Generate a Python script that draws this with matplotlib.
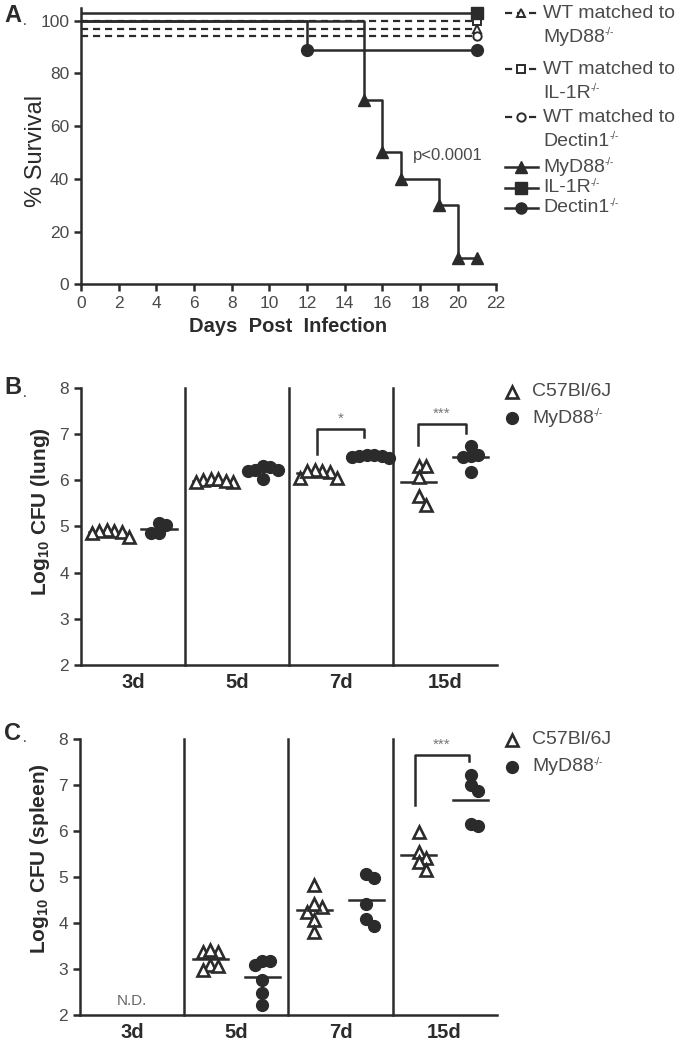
import numpy as np
import matplotlib.pyplot as plt

plt.rcParams['font.family'] = ['Liberation Sans', 'DejaVu Sans']
plt.rcParams['mathtext.fontset'] = 'custom'
plt.rcParams['mathtext.rm'] = 'Liberation Sans'
plt.rcParams['mathtext.it'] = 'Liberation Sans:italic'
plt.rcParams['mathtext.bf'] = 'Liberation Sans:bold'

# ---- panel A: survival curves ----
day_ticks = list(range(0, 23, 2))
surv_ticks = [0, 20, 40, 60, 80, 100]
myd88_days = [0, 15, 16, 17, 19, 20, 21]
myd88_surv = [100, 70, 50, 40, 30, 10, 10]
dectin_days = [0, 12, 21]
dectin_surv = [100, 88.9, 88.9]
il1r_days = [0, 21]
il1r_surv = [100, 100]
wt_days = [0, 21]
wt_myd88_surv = [100, 100]
wt_il1r_surv = [100, 100]
wt_dectin_surv = [100, 100]
p_label = "p<0.0001"

# ---- panels B and C: log10 CFU ----
timepoints = ['3d', '5d', '7d', '15d']
lung_wt = [[4.90, 4.92, 4.88, 4.78, 4.90, 4.85],
           [6.00, 6.03, 5.95, 6.02, 5.97, 5.98],
           [6.18, 6.20, 6.22, 6.05, 6.05, 6.20],
           [6.30, 6.30, 6.07, 5.65, 5.47]]
lung_ko = [[5.02, 5.07, 4.85, 4.85],
           [6.22, 6.28, 6.30, 6.20, 6.02, 6.22],
           [6.55, 6.52, 6.55, 6.48, 6.50, 6.52],
           [6.74, 6.52, 6.50, 6.55, 6.18]]
spleen_wt = [[],
             [3.37, 3.36, 3.42, 3.09, 2.98, 3.06],
             [4.83, 4.35, 4.25, 4.42, 4.07, 3.81],
             [5.98, 5.55, 5.41, 5.32, 5.16]]
spleen_ko = [[],
             [3.18, 3.09, 3.18, 2.77, 2.48, 2.22],
             [4.97, 5.06, 4.42, 4.08, 3.93],
             [7.22, 7.00, 6.88, 6.10, 6.16]]
lung_sig = {2: '*', 3: '***'}
spleen_sig = {3: '***'}

INK = '#2b2b2b'
TICK = '#4a4a4a'
W, H = 680, 1043

fig = plt.figure(figsize=(W / 100, H / 100), dpi=100)


def px_axes(left, top, right, bottom):
    return fig.add_axes([left / W, 1 - bottom / H, (right - left) / W, (bottom - top) / H])


def style_axes(ax):
    for side in ['top', 'right']:
        ax.spines[side].set_visible(False)
    for side in ['left', 'bottom']:
        ax.spines[side].set_linewidth(1.8)
        ax.spines[side].set_color(INK)
    ax.tick_params(width=1.8, length=5, color=INK, labelcolor=TICK, labelsize=12.5)


def knockout_text(ax, x, y, base, fs, color=TICK):
    # name with a small "-/-" superscript, as in the original figure
    t = ax.text(x, y, base, fontsize=fs, color=color, va='center', ha='left')
    ax.annotate('-/-', xy=(1.0, 0.78), xycoords=t, fontsize=fs * 0.5, color=color,
                va='center', ha='left')
    return t


# ---------------- A ----------------
axA = px_axes(81, 7.5, 495.5, 284.3)
style_axes(axA)
axA.set_xlim(0, 22)
axA.set_ylim(0, 105)
axA.set_xticks(day_ticks)
axA.set_yticks(surv_ticks)

dash = (0, (3.2, 2.2))
wt_series = [
    (wt_days, wt_il1r_surv, 0, 's'),
    (wt_days, wt_myd88_surv, -3, '^'),
    (wt_days, wt_dectin_surv, -6, 'o'),
]
for d, s, nudge, mk in wt_series:
    ys = np.array(s) + nudge
    axA.step(d, ys, where='post', color=INK, lw=1.6, ls=dash, zorder=2)
    axA.plot(d[-1:], ys[-1:], marker=mk, ms=6, mfc='white', mec=INK, mew=1.4,
             ls='none', zorder=3, clip_on=False)

axA.step(il1r_days, np.array(il1r_surv) + 3, where='post', color=INK, lw=1.8, zorder=4)
axA.plot(il1r_days[-1:], [il1r_surv[-1] + 3], 's', ms=8, color=INK, zorder=5, clip_on=False)
axA.step(myd88_days, myd88_surv, where='post', color=INK, lw=1.8, zorder=4)
axA.plot(myd88_days[1:], myd88_surv[1:], '^', ms=9, color=INK, zorder=5, clip_on=False)
axA.step(dectin_days, dectin_surv, where='post', color=INK, lw=1.8, zorder=4)
axA.plot(dectin_days[1:], dectin_surv[1:], 'o', ms=8.5, color=INK, zorder=5, clip_on=False)

axA.text(17.6, 48.7, p_label, fontsize=12, color=TICK, va='center', ha='left')
axA.set_xlabel('Days  Post  Infection', fontsize=14.5, fontweight='bold', color=INK, labelpad=4)
axA.set_ylabel('% Survival', fontsize=17, color=INK)
axA.yaxis.set_label_coords(-0.082, 0.48)


# ---------------- B / C ----------------
PX_X, PX_Y = 104.0, 46.0


def swarm(vals, center, step_px=7.5, gap_px=9.0):
    vals = np.asarray(vals, float)
    xs = np.zeros(len(vals))
    placed = []
    for i in np.argsort(-vals):
        y = vals[i] * PX_Y
        for k in [0, 1, -1, 2, -2, 3, -3]:
            if all(not (s == k and abs(y - yy) < gap_px) for s, yy in placed):
                break
        placed.append((k, y))
        xs[i] = center + k * step_px / PX_X
    return xs


def cfu_panel(ax, wt, ko, sig, ylabel, label_y, brackets):
    style_axes(ax)
    ax.set_xlim(0, 4)
    ax.set_ylim(2, 8)
    ax.set_yticks(range(2, 9))
    ax.set_xticks([i + 0.5 for i in range(4)])
    ax.set_xticklabels(timepoints, fontsize=14.5, fontweight='bold', color=INK)
    ax.tick_params(axis='x', length=0, pad=6)
    for b in range(1, 4):
        ax.plot([b, b], [2, 8], color=INK, lw=1.8, clip_on=False, zorder=1)
    for i in range(4):
        for vals, c, filled in [(wt[i], i + 0.25, False), (ko[i], i + 0.75, True)]:
            if len(vals) == 0:
                continue
            xs = swarm(vals, c)
            ax.plot([c - 0.17, c + 0.17], [np.mean(vals)] * 2, color=INK, lw=1.8, zorder=2)
            if filled:
                ax.plot(xs, vals, 'o', ms=8.5, color=INK, ls='none', zorder=3)
            else:
                ax.plot(xs, vals, '^', ms=8, mfc='white', mec=INK, mew=1.9, ls='none', zorder=3)
    for i, star in sig.items():
        x1, x2, ylo1, ytop, ylo2 = brackets[i]
        ax.plot([x1, x1, x2, x2], [ylo1, ytop, ytop, ylo2], color=INK, lw=1.8, zorder=2)
        ax.text((x1 + x2) / 2, ytop + 0.08, star, ha='center', va='bottom', fontsize=11, color='#777777')
    ax.set_ylabel(ylabel, fontsize=15, fontweight='bold', color=INK)
    ax.yaxis.set_label_coords(-0.07, label_y)


axB = px_axes(81, 387.7, 496.7, 665)
cfu_panel(axB, lung_wt, lung_ko, lung_sig, r'Log$_{\mathbf{10}}$ CFU (lung)', 0.553,
          {2: (2.27, 2.72, 6.56, 7.1, 6.93), 3: (3.24, 3.70, 6.76, 7.21, 7.01)})

axC = px_axes(80, 739, 496.7, 1015)
cfu_panel(axC, spleen_wt, spleen_ko, spleen_sig, r'Log$_{\mathbf{10}}$ CFU (spleen)', 0.565,
          {3: (3.22, 3.73, 6.57, 7.65, 7.52)})
axC.text(0.5, 2.3, 'N.D.', ha='center', va='center', fontsize=11, color='#666666')

# ---------------- overlay: panel letters and legends ----------------
ov = fig.add_axes([0, 0, 1, 1])
ov.set_xlim(0, W)
ov.set_ylim(H, 0)
ov.axis('off')
ov.patch.set_alpha(0)

for lab, y in [('A', 16), ('B', 388), ('C', 733)]:
    ov.text(4, y, lab, fontsize=17, fontweight='bold', color=INK, va='center', ha='left')
    ov.text(23, y + 5, '.', fontsize=10, color=INK, va='center')

legA = [
    (13, ['WT matched to', 'MyD88'], '^', True),
    (69, ['WT matched to', 'IL-1R'], 's', True),
    (117, ['WT matched to', 'Dectin1'], 'o', True),
    (167, ['MyD88'], '^', False),
    (188, ['IL-1R'], 's', False),
    (208, ['Dectin1'], 'o', False),
]
for y, lines, mk, dashed in legA:
    if dashed:
        ov.plot([505, 538], [y, y], color=INK, lw=1.6, ls=dash)
        ov.plot([521], [y], mk, ms=6, mfc='white', mec=INK, mew=1.4)
    else:
        ov.plot([505, 538], [y, y], color=INK, lw=1.8)
        ov.plot([521], [y], mk, ms=8, color=INK)
    for j, t in enumerate(lines):
        if t.startswith('WT'):
            ov.text(543, y + j * 24, t, fontsize=14, color=TICK, va='center', ha='left')
        else:
            knockout_text(ov, 543, y + j * 24, t, 14)

for y0 in [391.7, 740]:
    ov.plot([512], [y0], '^', ms=8, mfc='white', mec=INK, mew=1.9)
    ov.text(532, y0, 'C57Bl/6J', fontsize=14, color=TICK, va='center', ha='left')
    ov.plot([512], [y0 + 26.5], 'o', ms=8.5, color=INK)
    knockout_text(ov, 532, y0 + 26.5, 'MyD88', 14)

fig.savefig('out.png', dpi=100)
